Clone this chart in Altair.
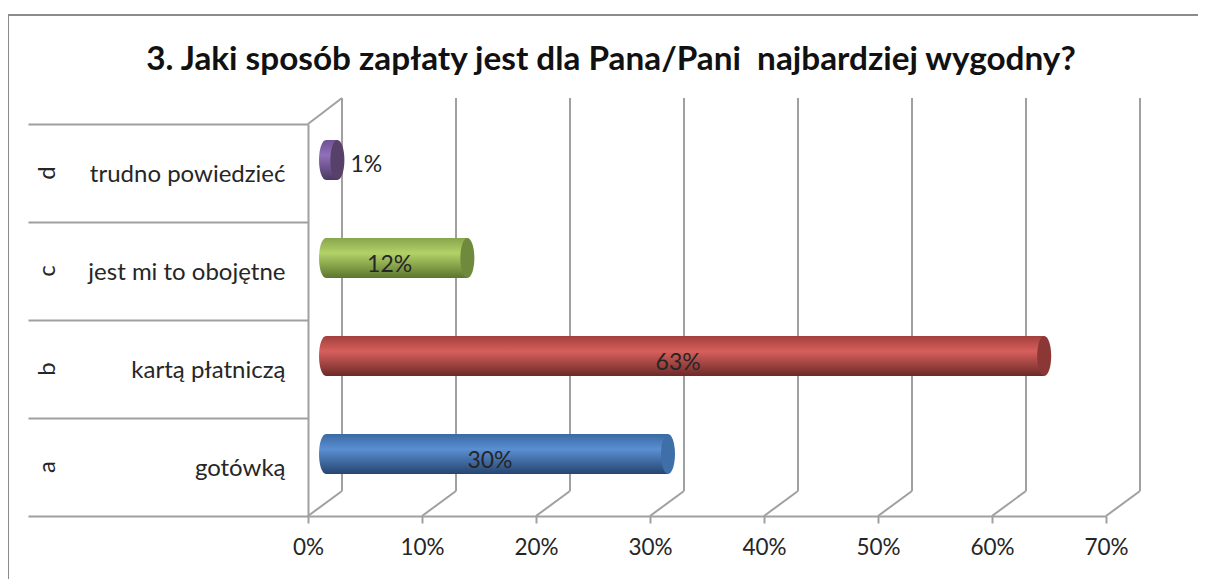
import altair as alt
import pandas as pd

categories = ["gotówką", "kartą płatniczą", "jest mi to obojętne", "trudno powiedzieć"]
letters = ["a", "b", "c", "d"]
values = [0.30, 0.63, 0.124, 0.01]
grid_ticks = [0, 0.1, 0.2, 0.3, 0.4, 0.5, 0.6, 0.7]
gradient_stops = [
    ["#3a6aa3", "#5a8fd2", "#25456f"],
    ["#a23f3c", "#d75f5c", "#6c2a28"],
    ["#88a64c", "#b2d268", "#5b752c"],
    ["#6f5196", "#9070b8", "#4b3763"],
]
cap_colours = ["#3f6fa8", "#8a3735", "#6f8a3d", "#574069"]
title_text = "3. Jaki sposób zapłaty jest dla Pana/Pani \u00a0najbardziej wygodny?"

FONT = "Lato"
TEXT = "#262626"
LINE = "#a0a0a0"
DEPTH = 34 / 1140

W, H = 798, 392
data = pd.DataFrame({"cat": categories, "letter": letters, "v": values})
data["zero"] = 0.0
data["mid"] = data["v"] / 2
data["label"] = [f"{round(v * 100)}%" for v in values]
grid = pd.DataFrame({"g": grid_ticks})
grid["b"] = grid["g"] + DEPTH

xs = alt.Scale(domain=[0, 0.7], nice=False, zero=False)
ys = alt.Scale(domain=categories[::-1], paddingInner=0, paddingOuter=0)

x_axis = alt.Axis(values=grid_ticks, format=".0%", grid=False, title=None, domainColor=LINE,
                  domainWidth=2, tickColor=LINE, tickWidth=2, tickSize=7, labelFont=FONT,
                  labelFontSize=22.5, labelColor=TEXT, labelPadding=13, labelOverlap=False,
                  labelFlush=False)
y_axis = alt.Axis(grid=False, title=None, domainColor=LINE, domainWidth=2, tickColor=LINE,
                  tickWidth=2, tickSize=280, tickBand="extent", labelFont=FONT, labelFontSize=24,
                  labelColor=TEXT, labelPadding=-257, labelAlign="right", labelLimit=300,
                  labelOffset=1.5)

base = alt.Chart(data)
axes = base.mark_bar(opacity=0).encode(
    x=alt.X("v:Q", scale=xs, axis=x_axis, stack=None),
    y=alt.Y("cat:N", scale=ys, axis=y_axis, sort=categories[::-1]),
)

back = alt.Chart(grid).mark_rule(color=LINE, strokeWidth=2).encode(
    x=alt.X("b:Q", scale=xs), y=alt.value(-26), y2=alt.value(367))
floor = alt.Chart(grid).mark_rule(color=LINE, strokeWidth=2).encode(
    x=alt.X("g:Q", scale=xs), x2="b:Q", y=alt.value(H), y2=alt.value(367))
top_edge = alt.Chart(grid[grid["g"] == 0]).mark_rule(color=LINE, strokeWidth=2).encode(
    x=alt.X("g:Q", scale=xs), x2="b:Q", y=alt.value(0), y2=alt.value(-26))

frame_l = base.mark_rule(color="#8c8c8c", strokeWidth=2).encode(
    x=alt.value(-300), y=alt.value(-109), y2=alt.value(455))
frame_t = base.mark_rule(color="#8c8c8c", strokeWidth=2).encode(
    x=alt.value(-300), x2=alt.value(890), y=alt.value(-109))

letter_marks = base.mark_text(font=FONT, fontSize=24, color=TEXT, angle=270).encode(
    x=alt.value(-260), y=alt.Y("cat:N", scale=ys), text="letter:N")

ELLIPSE = "M-0.35,0A0.35,1 0 1,0 0.35,0A0.35,1 0 1,0 -0.35,0Z"
layers = [axes, back, floor, top_edge, frame_l, frame_t, letter_marks]
for i, cat in enumerate(categories):
    stops = gradient_stops[i]
    grad = alt.LinearGradient(
        gradient="linear", x1=0, y1=0, x2=0, y2=1,
        stops=[alt.GradientStop(offset=0, color=stops[0]),
               alt.GradientStop(offset=0.38, color=stops[1]),
               alt.GradientStop(offset=1, color=stops[2])])
    row = alt.Chart(data[data["cat"] == cat])
    layers.append(row.mark_point(shape=ELLIPSE, size=1600, filled=True, fill=grad, opacity=1,
                                 strokeWidth=0, xOffset=18, yOffset=-13).encode(
        x=alt.X("zero:Q", scale=xs), y=alt.Y("cat:N", scale=ys)))
    layers.append(row.mark_bar(size=40, fill=grad, xOffset=18, x2Offset=18, yOffset=-13).encode(
        x=alt.X("zero:Q", scale=xs, stack=None), x2="v:Q", y=alt.Y("cat:N", scale=ys)))
    layers.append(row.mark_point(shape=ELLIPSE, size=1600, filled=True, fill=cap_colours[i], opacity=1,
                                 strokeWidth=0, xOffset=18, yOffset=-13).encode(
        x=alt.X("v:Q", scale=xs), y=alt.Y("cat:N", scale=ys)))

inside = base.transform_filter("datum.v >= 0.05").mark_text(
    font=FONT, fontSize=23, color=TEXT, dx=11, dy=-6).encode(
    x=alt.X("mid:Q", scale=xs), y=alt.Y("cat:N", scale=ys), text="label:N")
outside = base.transform_filter("datum.v < 0.05").mark_text(
    font=FONT, fontSize=23, color=TEXT, dx=31, dy=-8, align="left").encode(
    x=alt.X("v:Q", scale=xs), y=alt.Y("cat:N", scale=ys), text="label:N")
layers += [inside, outside]

chart = alt.layer(*layers).properties(
    width=W, height=H,
    title=alt.TitleParams(title_text, font=FONT, fontSize=33.3, fontWeight="bold", color="#111111",
                          anchor="middle", dx=-96, offset=-63, limit=1100),
    padding={"left": 300, "top": 116, "right": 92, "bottom": 63},
    autosize=alt.AutoSizeParams(type="none"),
).configure_view(stroke=None)

chart.save("out.html", embed_options={"renderer": "svg", "actions": False})
